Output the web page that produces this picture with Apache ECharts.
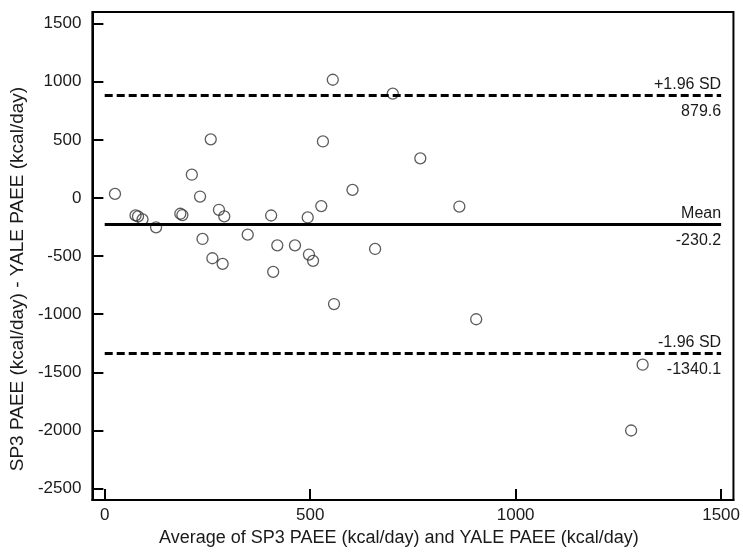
<!DOCTYPE html>
<html>
<head>
<meta charset="utf-8">
<script src="https://cdn.jsdelivr.net/npm/echarts@6/dist/echarts.min.js"></script>
<style>html,body{margin:0;padding:0;background:#fff}#c{width:743px;height:552px}</style>
</head>
<body>
<div id="c"></div>
<script>
// Data (Bland-Altman plot)
const avgValues = [25, 75, 81, 92, 125, 184, 189, 212, 232, 238, 258, 262, 278, 287, 291, 348, 405, 410, 420, 463, 494, 497, 507, 527, 531, 555, 558, 603, 658, 701, 768, 863, 904, 1281, 1309];
const diffValues = [35, -150, -159, -185, -253, -136, -147, 200, 12, -353, 504, -519, -102, -567, -159, -316, -151, -636, -408, -408, -168, -487, -541, -70, 486, 1017, -913, 69, -439, 898, 341, -74, -1044, -2001, -1435];
const xTicks = [0, 500, 1000, 1500];
const yTicks = [1500, 1000, 500, 0, -500, -1000, -1500, -2000, -2500];
const refNames = ['+1.96 SD', 'Mean', '-1.96 SD'];
const refValues = [879.6, -230.2, -1340.1];
const refDashed = [true, false, true];
const refStart = 0;
const refEnd = 1500;
const xTitle = 'Average of SP3 PAEE (kcal/day) and YALE PAEE (kcal/day)';
const yTitle = 'SP3 PAEE (kcal/day) - YALE PAEE (kcal/day)';

const FONT = '"Liberation Sans", Arial, sans-serif';
const TXT = '#1a1a1a';
const points = avgValues.map((x, i) => [x, diffValues[i]]);

const markData = [];
refValues.forEach((v, i) => {
  const ls = { color: '#000', width: 3, type: refDashed[i] ? [8, 4] : 'solid' };
  markData.push([
    { coord: [refStart, v], lineStyle: ls,
      label: { show: true, position: 'insideEndTop', formatter: refNames[i], color: TXT, fontSize: 16, fontFamily: FONT, distance: [0, 3] } },
    { coord: [refEnd, v] }
  ]);
  markData.push([
    { coord: [refStart, v], lineStyle: { width: 1, color: 'rgba(0,0,0,0)' },
      label: { show: true, position: 'insideEndBottom', formatter: v.toFixed(1), color: TXT, fontSize: 16, fontFamily: FONT, distance: [0, 8] } },
    { coord: [refEnd, v] }
  ]);
});

const chart = echarts.init(document.getElementById('c'), null, { renderer: 'canvas' });
chart.setOption({
  animation: false,
  backgroundColor: '#fff',
  grid: { left: 91, top: 12, right: 5, bottom: 50, show: true, borderColor: '#000', borderWidth: 2 },
  xAxis: {
    type: 'value', min: -30, max: 1530,
    name: xTitle, nameLocation: 'middle', nameGap: 18,
    nameTextStyle: { fontSize: 18, fontFamily: FONT, color: TXT, padding: [0, 28, 0, 0] },
    axisLine: { show: true, onZero: false, lineStyle: { color: '#000', width: 2 } },
    axisTick: { show: true, inside: true, length: 11, lineStyle: { color: '#000', width: 2 }, customValues: xTicks },
    axisLabel: { show: true, fontSize: 17, fontFamily: FONT, color: TXT, margin: 7, customValues: xTicks, formatter: v => String(v) },
    splitLine: { show: false }
  },
  yAxis: {
    type: 'value', min: -2600, max: 1600,
    name: yTitle, nameLocation: 'middle', nameGap: 64, nameRotate: 90,
    nameTextStyle: { fontSize: 19, fontFamily: FONT, color: TXT, padding: [0, 46, 0, 0] },
    axisLine: { show: true, onZero: false, lineStyle: { color: '#000', width: 2 } },
    axisTick: { show: true, inside: true, length: 11, lineStyle: { color: '#000', width: 2 }, customValues: yTicks },
    axisLabel: { show: true, fontSize: 17, fontFamily: FONT, color: TXT, margin: 11, customValues: yTicks, formatter: v => String(v) },
    splitLine: { show: false }
  },
  series: [{
    type: 'scatter',
    data: points,
    symbol: 'circle',
    symbolSize: 11,
    itemStyle: { color: 'rgba(255,255,255,0)', borderColor: '#333', borderWidth: 1.3 },
    z: 3,
    markLine: {
      silent: true, symbol: ['none', 'none'], animation: false,
      data: markData
    }
  }]
});
</script>
</body>
</html>
